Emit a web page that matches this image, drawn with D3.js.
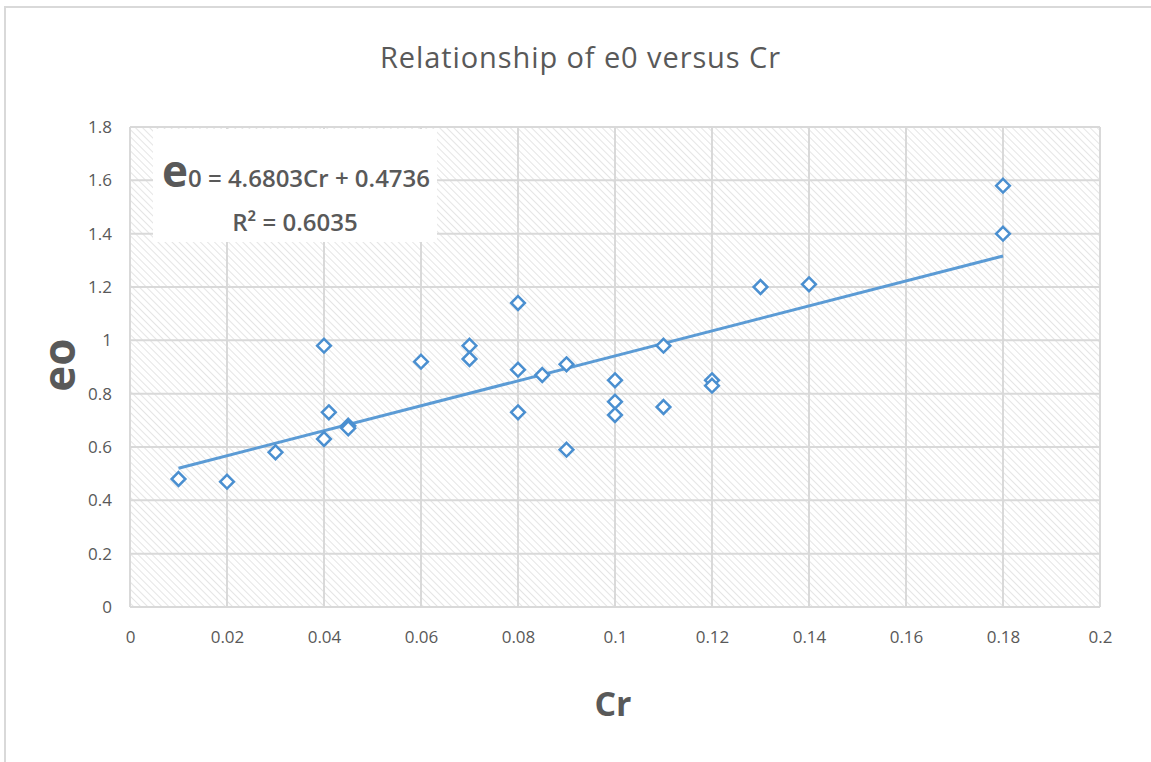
<!DOCTYPE html>
<html>
<head>
<meta charset="utf-8">
<script src="https://cdn.jsdelivr.net/npm/d3@7"></script>
<style>
  body { margin: 0; background: #fff; }
  svg text { font-family: "Open Sans", "Liberation Sans", sans-serif; fill: #595959; }
</style>
</head>
<body>
<div id="chart"></div>
<script>
const crValues = [0.01, 0.02, 0.03, 0.04, 0.04, 0.041, 0.045, 0.045, 0.06, 0.07, 0.07, 0.08, 0.08, 0.08,
  0.085, 0.09, 0.09, 0.1, 0.1, 0.1, 0.11, 0.11, 0.12, 0.12, 0.13, 0.14, 0.18, 0.18];
const e0Values = [0.48, 0.47, 0.58, 0.98, 0.63, 0.73, 0.68, 0.67, 0.92, 0.98, 0.93, 1.14, 0.89, 0.73,
  0.87, 0.91, 0.59, 0.85, 0.77, 0.72, 0.98, 0.75, 0.85, 0.83, 1.2, 1.21, 1.58, 1.40];

const xTicks = [0, 0.02, 0.04, 0.06, 0.08, 0.1, 0.12, 0.14, 0.16, 0.18, 0.2];
const yTicks = [0, 0.2, 0.4, 0.6, 0.8, 1, 1.2, 1.4, 1.6, 1.8];

// linear trendline from the chart's equation
const slope = 4.6803, intercept = 0.4736;
const trendRange = [0.01, 0.18];

const W = 1151, H = 762;
const plot = { left: 130, right: 1100, top: 127, bottom: 607 };

const svg = d3.select('#chart').append('svg')
  .attr('width', W).attr('height', H);

// hatch pattern for plot area
const defs = svg.append('defs');
const pat = defs.append('pattern')
  .attr('id', 'hatch')
  .attr('patternUnits', 'userSpaceOnUse')
  .attr('width', 5).attr('height', 5)
  .attr('patternTransform', 'rotate(-45)');
pat.append('rect').attr('width', 5).attr('height', 5).attr('fill', '#fff');
pat.append('line').attr('x1', 0).attr('y1', 0).attr('x2', 0).attr('y2', 5)
  .attr('stroke', '#dadada').attr('stroke-width', 1.4);

// outer chart border
svg.append('rect')
  .attr('x', 5).attr('y', 7).attr('width', W).attr('height', H)
  .attr('fill', 'none').attr('stroke', '#d9d9d9').attr('stroke-width', 2);

const x = d3.scaleLinear().domain([0, 0.2]).range([plot.left, plot.right]);
const y = d3.scaleLinear().domain([0, 1.8]).range([plot.bottom, plot.top]);

svg.append('rect')
  .attr('x', plot.left).attr('y', plot.top)
  .attr('width', plot.right - plot.left).attr('height', plot.bottom - plot.top)
  .attr('fill', 'url(#hatch)');

// gridlines
const grid = svg.append('g').attr('stroke', '#d9d9d9').attr('stroke-width', 2);
grid.selectAll('.gx').data(xTicks).join('line')
  .attr('x1', d => x(d)).attr('x2', d => x(d))
  .attr('y1', plot.top).attr('y2', plot.bottom);
grid.selectAll('.gy').data(yTicks).join('line')
  .attr('y1', d => y(d)).attr('y2', d => y(d))
  .attr('x1', plot.left).attr('x2', plot.right);

// axes (labels only)
const xAxis = svg.append('g')
  .attr('transform', `translate(0,${plot.bottom})`)
  .call(d3.axisBottom(x).tickValues(xTicks).tickFormat(d3.format('')).tickSize(0).tickPadding(24));
const yAxis = svg.append('g')
  .attr('transform', `translate(${plot.left},0)`)
  .call(d3.axisLeft(y).tickValues(yTicks).tickFormat(d3.format('')).tickSize(0).tickPadding(18));
[xAxis, yAxis].forEach(a => {
  a.select('.domain').remove();
  a.selectAll('text').style('font-size', '17px').attr('fill', '#595959');
});

// trendline
const line = d3.line().x(d => x(d)).y(d => y(slope * d + intercept));
svg.append('path')
  .datum(trendRange)
  .attr('fill', 'none')
  .attr('stroke', '#5b9bd5')
  .attr('stroke-width', 3)
  .attr('d', line);

// points
const pts = crValues.map((c, i) => ({ c, e: e0Values[i] }));
svg.append('g').selectAll('path').data(pts).join('path')
  .attr('transform', d => `translate(${x(d.c)},${y(d.e)})`)
  .attr('d', d3.symbol(d3.symbolDiamond2, 120))
  .attr('fill', '#fff')
  .attr('stroke', '#4a8fd0')
  .attr('stroke-width', 2.5);

// equation box
svg.append('rect')
  .attr('x', 153).attr('y', 129).attr('width', 284).attr('height', 113)
  .attr('fill', '#fff');
const eq = svg.append('text')
  .attr('x', 296).attr('y', 187)
  .attr('text-anchor', 'middle');
eq.append('tspan').text('e').style('font-size', '44px').style('font-weight', 'bold');
eq.append('tspan').text('0 = 4.6803Cr + 0.4736').style('font-size', '24px').style('font-weight', 600);
svg.append('text')
  .attr('x', 295).attr('y', 231)
  .attr('text-anchor', 'middle')
  .style('font-size', '24px').style('font-weight', 600)
  .text('R² = 0.6035');

// title
svg.append('text')
  .attr('x', 580).attr('y', 68)
  .attr('text-anchor', 'middle')
  .style('font-size', '29px')
  .attr('textLength', 400)
  .text('Relationship of e0 versus Cr');

// axis titles
svg.append('text')
  .attr('transform', 'translate(75,365) rotate(-90)')
  .attr('text-anchor', 'middle')
  .style('font-size', '44px').style('font-weight', 'bold')
  .text('eo');
svg.append('text')
  .attr('x', 613).attr('y', 716)
  .attr('text-anchor', 'middle')
  .style('font-size', '34px').style('font-weight', 'bold')
  .text('Cr');
</script>
</body>
</html>
